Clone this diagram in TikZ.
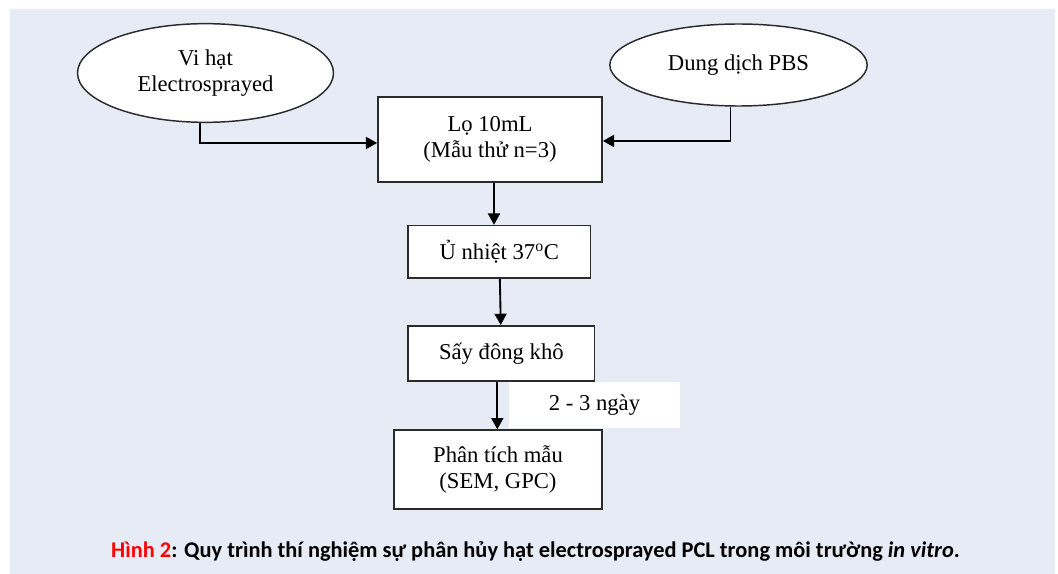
\documentclass[tikz,border=0pt]{standalone}
\usepackage{fontspec}
\setmainfont{Liberation Serif}
\newfontfamily\capfont{Carlito}
\usetikzlibrary{shapes.geometric, arrows.meta, positioning}
\definecolor{bgpanel}{HTML}{E7EBF6}
\definecolor{boxline}{HTML}{2B2B2B}
\definecolor{capred}{HTML}{FF0000}

\begin{document}
\begin{tikzpicture}[x=0.75pt, y=-0.75pt, >={Triangle[length=8.5pt, width=9pt]},
    block/.style={draw=boxline, line width=1.2pt, fill=white, rectangle, align=center, font=\fontsize{17}{20}\selectfont, inner sep=0pt},
    source/.style={draw=boxline, line width=1.1pt, fill=white, ellipse, align=center, font=\fontsize{17}{20}\selectfont, inner sep=0pt},
    link/.style={->, line width=1.4pt, black}]

    % Khung nen
    \useasboundingbox (0,0) rectangle (1058,574);
    \fill[white] (0,0) rectangle (1058,574);
    \fill[bgpanel] (10,9) rectangle (1055,574);

    % Thoi gian
    \node[rectangle, fill=white, minimum width=128pt, minimum height=35pt, inner sep=0pt, font=\fontsize{17}{20}\selectfont] (ngay) at (594.5,405) {2 - 3 ngày};

    % Nguon
    \node[source, minimum width=192pt, minimum height=74pt] (vihat) at (205.5,73) {Vi hạt\\Electrosprayed};
    \node[source, minimum width=193pt, minimum height=61.5pt] (pbs) at (738.5,65) {Dung dịch PBS};

    % Cac buoc
    \node[block, minimum width=168pt, minimum height=63.75pt] (lo) at (490,139.5) {Lọ 10mL\\(Mẫu thử n=3)};
    \node[block, minimum width=137pt, minimum height=39.5pt, below=31.5pt of lo, xshift=7pt] (uNhiet) {Ủ nhiệt 37\textsuperscript{o}C};
    \node[block, minimum width=140pt, minimum height=41.5pt, below=34.5pt of uNhiet, xshift=1.5pt] (say) {Sấy đông khô};
    \node[block, minimum width=156pt, minimum height=59pt, below=35.5pt of say, xshift=-2.5pt] (phantich) {Phân tích mẫu\\(SEM, GPC)};

    % Lien ket
    \draw[link] ([xshift=-4pt]vihat.south) |- ([yshift=-2.6pt]lo.west);
    \draw[link] ([xshift=-6pt]pbs.south) |- ([yshift=-1.1pt]lo.east);
    \draw[link] ([xshift=3pt]lo.south) -- ([xshift=3pt]lo.south |- uNhiet.north);
    \draw[link] (uNhiet) -- (say);
    \draw[link] ([xshift=-3pt]say.south) -- ([xshift=-3pt]say.south |- phantich.north);

    % Chu thich
    \node[font=\capfont\bfseries\fontsize{16.8}{20}\selectfont, anchor=base] (chuthich) at (535.5,557)
        {\textcolor{capred}{Hình 2}: Quy trình thí nghiệm sự phân hủy hạt electrosprayed PCL trong môi trường \textit{in vitro}.};

\end{tikzpicture}
\end{document}
